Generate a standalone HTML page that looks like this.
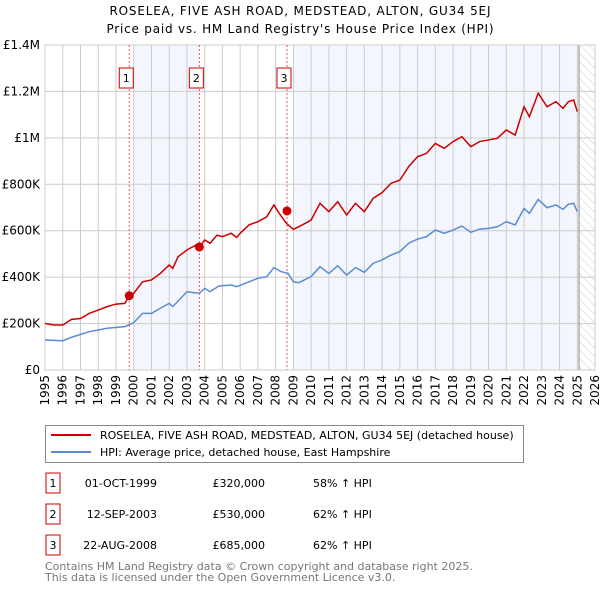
<!DOCTYPE html>
<html><head><meta charset="utf-8"><style>
body{margin:0;background:#fff;width:600px;height:590px;overflow:hidden;font-family:"DejaVu Sans","Liberation Sans",sans-serif}
svg text{font-family:"DejaVu Sans","Liberation Sans",sans-serif}
</style></head><body>
<svg id="chart" width="600" height="590" xmlns="http://www.w3.org/2000/svg">
<defs><pattern id="hatch" width="6" height="6" patternUnits="userSpaceOnUse" patternTransform="rotate(-45)"><line x1="0" y1="0" x2="0" y2="6" stroke="#ccc" stroke-width="1"/></pattern></defs>
<text x="300" y="15" text-anchor="middle" font-size="12" textLength="381">ROSELEA, FIVE ASH ROAD, MEDSTEAD, ALTON, GU34 5EJ</text>
<text x="300" y="33" text-anchor="middle" font-size="12" textLength="387">Price paid vs. HM Land Registry's House Price Index (HPI)</text>
<g id="grid"></g><g id="marks"></g>
<g>
<rect x="45.5" y="425.5" width="478" height="37" fill="#fff" stroke="#888"/>
<line x1="51" y1="435" x2="91" y2="435" stroke="#cc0000" stroke-width="2"/>
<text x="100" y="439" font-size="11">ROSELEA, FIVE ASH ROAD, MEDSTEAD, ALTON, GU34 5EJ (detached house)</text>
<line x1="51" y1="452" x2="91" y2="452" stroke="#5b8bd0" stroke-width="2"/>
<text x="100" y="456" font-size="11">HPI: Average price, detached house, East Hampshire</text>
</g>
<g id="table" font-size="11"></g>
<text x="45" y="570" font-size="11" fill="#777">Contains HM Land Registry data © Crown copyright and database right 2025.</text>
<text x="45" y="581" font-size="11" fill="#777">This data is licensed under the Open Government Licence v3.0.</text>
</svg>
<script>
const redYears=[1995,1995.5,1996,1996.5,1997,1997.5,1998,1998.5,1999,1999.5,1999.75,2000,2000.5,2001,2001.5,2002,2002.2,2002.5,2003,2003.5,2003.7,2004,2004.3,2004.7,2005,2005.5,2005.8,2006,2006.5,2007,2007.5,2007.9,2008.2,2008.6,2009,2009.5,2010,2010.5,2011,2011.5,2012,2012.5,2013,2013.5,2014,2014.5,2015,2015.5,2016,2016.5,2017,2017.5,2018,2018.5,2019,2019.5,2020,2020.5,2021,2021.5,2022,2022.3,2022.8,2023.3,2023.8,2024.2,2024.5,2024.8,2025];
const redValues=[201,194,194,218,222,244,258,273,284,287,320,330,380,388,416,452,438,488,517,538,530,560,546,581,574,589,571,589,625,639,660,711,675,632,606,625,646,718,682,725,668,718,682,740,764,804,818,876,919,933,976,955,984,1005,962,984,991,998,1034,1012,1134,1091,1192,1134,1156,1127,1156,1163,1113];
const hpiYears=[1995,1996,1996.5,1997.5,1998.5,1999.5,2000,2000.5,2001,2001.5,2002,2002.2,2003,2003.7,2004,2004.3,2004.8,2005.5,2005.8,2006.5,2007,2007.5,2007.9,2008.3,2008.7,2009,2009.3,2010,2010.5,2011,2011.5,2012,2012.5,2013,2013.5,2014,2014.5,2015,2015.5,2016,2016.5,2017,2017.5,2018,2018.5,2019,2019.5,2020,2020.5,2021,2021.5,2022,2022.3,2022.8,2023.3,2023.8,2024.2,2024.5,2024.8,2025];
const hpiValues=[129,126,141,165,180,187,204,244,244,266,287,273,337,330,352,337,362,366,359,380,395,402,441,424,416,380,376,402,445,416,449,409,441,421,460,474,495,510,546,564,574,603,589,603,620,593,607,610,617,639,625,696,675,735,699,711,692,714,718,682];
const saleYears=[1999.75,2003.7,2008.64];
const saleValues=[320,530,685];
const saleDates=["01-OCT-1999","12-SEP-2003","22-AUG-2008"];
const salePrices=["£320,000","£530,000","£685,000"];
const saleHpi=["58% ↑ HPI","62% ↑ HPI","62% ↑ HPI"];
const yTicks=[0,200,400,600,800,1000,1200,1400];
const yLabels=["£0","£200K","£400K","£600K","£800K","£1M","£1.2M","£1.4M"];
const xTicks=[1995,1996,1997,1998,1999,2000,2001,2002,2003,2004,2005,2006,2007,2008,2009,2010,2011,2012,2013,2014,2015,2016,2017,2018,2019,2020,2021,2022,2023,2024,2025,2026];
const NS="http://www.w3.org/2000/svg";
const X0=45,X1=595,Y0=370,Y1=45;
const x=y=>X0+(y-1995)/31*(X1-X0);
const yv=v=>Y0-v/1400*(Y0-Y1);
function mk(tag,attrs,parent){const e=document.createElementNS(NS,tag);for(const k in attrs)e.setAttribute(k,attrs[k]);parent.appendChild(e);return e;}
const grid=document.getElementById('grid'),marks=document.getElementById('marks');
let s1=mk('rect',{x:x(2000),y:Y1,width:x(saleYears[1])-x(2000),height:Y0-Y1,fill:'#eef3fc',opacity:0.7},grid);


let s2=mk('rect',{x:x(2009),y:Y1,width:x(2025.1)-x(2009),height:Y0-Y1,fill:'#eef3fc',opacity:0.7},grid);


let h=mk('rect',{x:x(2025.1),y:Y1,width:X1-x(2025.1),height:Y0-Y1,fill:'url(#hatch)'},grid);


yTicks.forEach((t,i)=>{
  mk('line',{x1:X0,x2:X1,y1:yv(t),y2:yv(t),stroke:'#ccc'},grid);
  const tx=mk('text',{x:40,y:yv(t)+4,'text-anchor':'end','font-size':12},grid);
  tx.textContent=yLabels[i];
  
  
});
xTicks.forEach(t=>{
  mk('line',{x1:x(t),x2:x(t),y1:Y1,y2:Y0,stroke:'#ccc'},grid);
  const tx=mk('text',{x:0,y:0,'text-anchor':'end','font-size':12,transform:`translate(${x(t)+4},${Y0+5}) rotate(-90)`},grid);
  tx.textContent=t;
  
  
});
mk('line',{x1:x(2025.1),x2:x(2025.1),y1:Y1,y2:Y0,stroke:'#888'},grid);
mk('rect',{x:X0,y:Y1,width:X1-X0,height:Y0-Y1,fill:'none',stroke:'#ccc'},grid);
saleYears.forEach((yr,i)=>{
  mk('line',{x1:x(yr),x2:x(yr),y1:Y1,y2:Y0,stroke:'#e55','stroke-dasharray':'2,2'},marks);
  const b=mk('rect',{x:x(yr)-10,y:68,width:14,height:20,fill:'#fff',stroke:'#cc0000'},marks);
  
  
  const t=mk('text',{x:x(yr)-3,y:82,'text-anchor':'middle','font-size':11},marks);
  t.textContent=i+1;
});
const hp=mk('polyline',{points:hpiYears.map((y,i)=>x(y)+','+yv(hpiValues[i])).join(' '),fill:'none',stroke:'#5b8bd0','stroke-width':1.5},marks);


const rp=mk('polyline',{points:redYears.map((y,i)=>x(y)+','+yv(redValues[i])).join(' '),fill:'none',stroke:'#cc0000','stroke-width':1.5},marks);


saleYears.forEach((yr,i)=>{
  const c=mk('circle',{cx:x(yr),cy:yv(saleValues[i]),r:4.5,fill:'#cc0000'},marks);
  
  
});
const tb=document.getElementById('table');
saleYears.forEach((yr,i)=>{
  const cy=483+i*31;
  const r=mk('rect',{x:46,y:cy-10,width:14,height:20,fill:'#fff',stroke:'#cc0000'},tb);
  
  
  const n=mk('text',{x:53,y:cy+4,'text-anchor':'middle'},tb);n.textContent=i+1;
  const d=mk('text',{x:157,y:cy+4,'text-anchor':'end'},tb);d.textContent=saleDates[i];
  
  
  const p=mk('text',{x:265,y:cy+4,'text-anchor':'end'},tb);p.textContent=salePrices[i];
  
  
  const q=mk('text',{x:313,y:cy+4},tb);q.textContent=saleHpi[i];
  
  
});
</script>
</body></html>
